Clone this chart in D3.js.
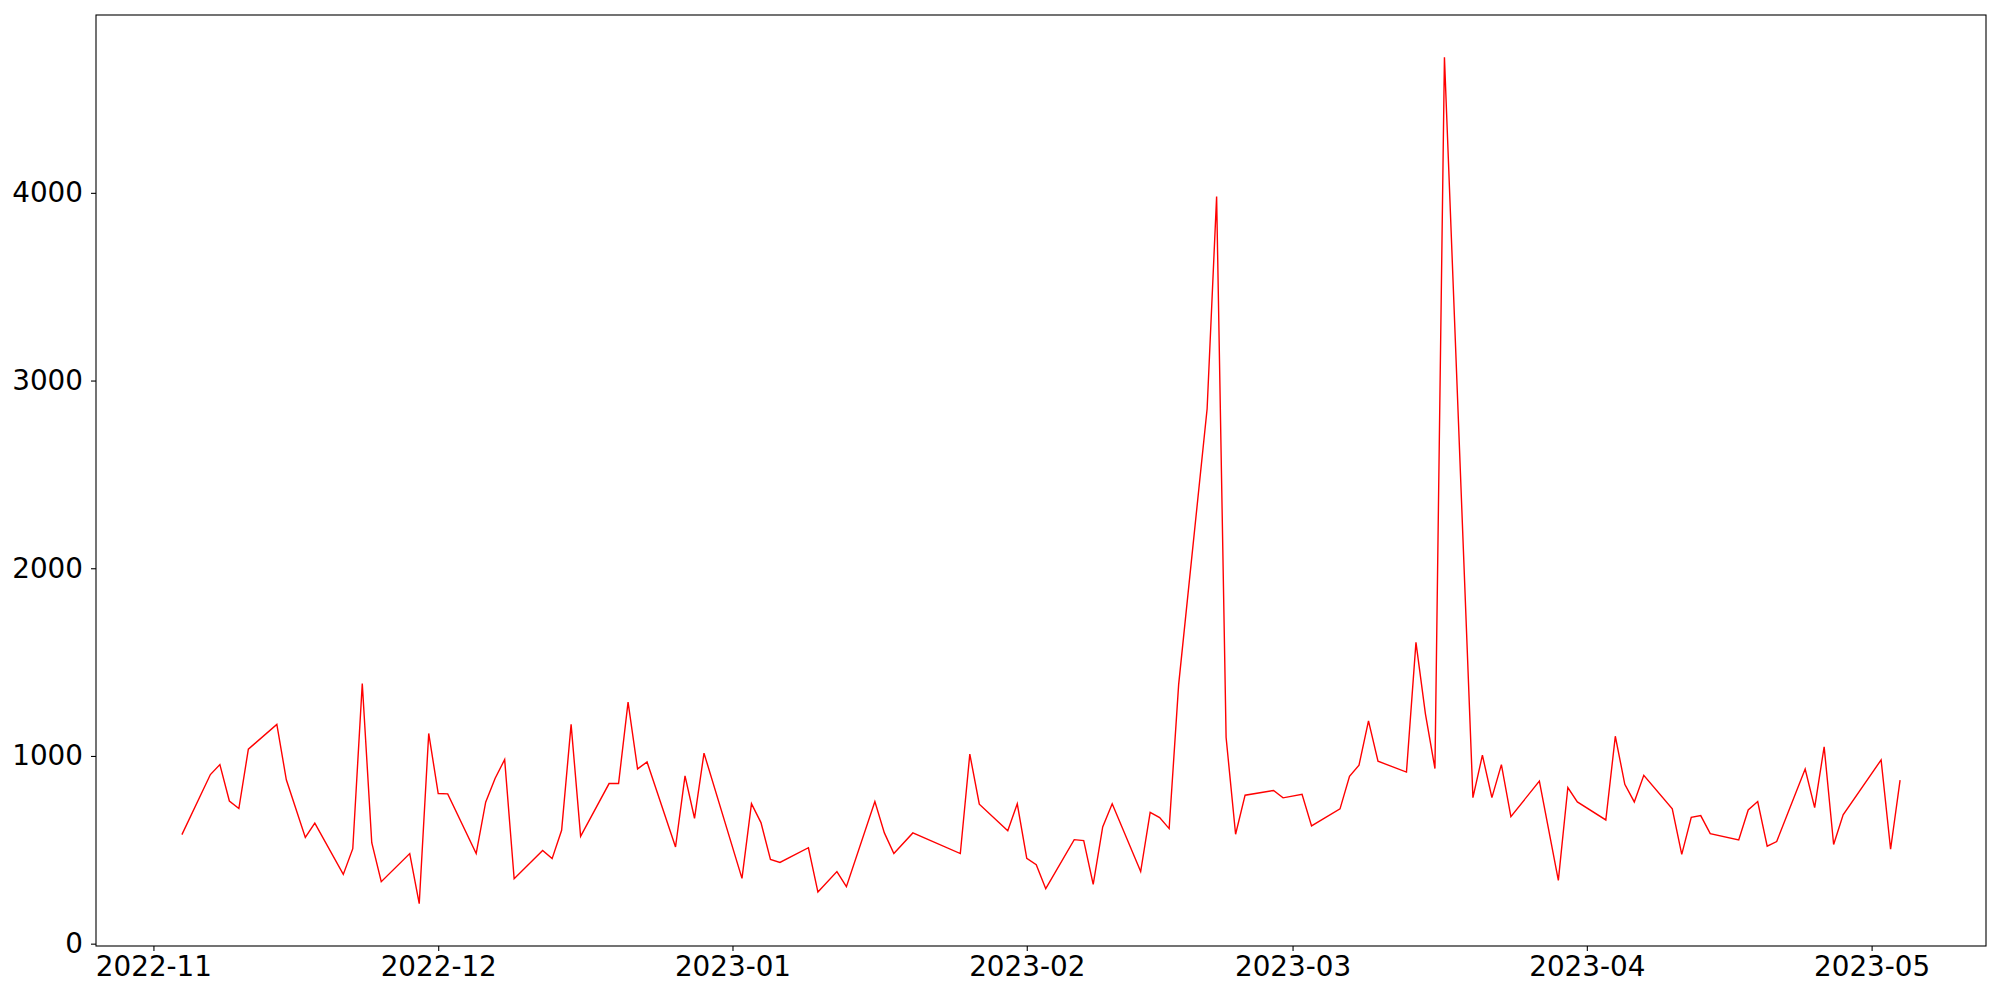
<!DOCTYPE html>
<html>
<head>
<meta charset="utf-8">
<script src="https://cdn.jsdelivr.net/npm/d3@7"></script>
<style>
  body { margin: 0; background: #fff; }
  #chart text { font-family: "DejaVu Sans", sans-serif; }
</style>
</head>
<body>
<div id="chart"></div>
<script>
// daily values, weekdays only (some days missing)
var dates = [
  "2022-11-04", "2022-11-07", "2022-11-08", "2022-11-09", "2022-11-10", "2022-11-11",
  "2022-11-14", "2022-11-15", "2022-11-17", "2022-11-18",
  "2022-11-21", "2022-11-22", "2022-11-23", "2022-11-24", "2022-11-25",
  "2022-11-28", "2022-11-29", "2022-11-30", "2022-12-01", "2022-12-02",
  "2022-12-05", "2022-12-06", "2022-12-07", "2022-12-08", "2022-12-09",
  "2022-12-12", "2022-12-13", "2022-12-14", "2022-12-15", "2022-12-16",
  "2022-12-19", "2022-12-20", "2022-12-21", "2022-12-22", "2022-12-23",
  "2022-12-26", "2022-12-27", "2022-12-28", "2022-12-29",
  "2023-01-02", "2023-01-03", "2023-01-04", "2023-01-05", "2023-01-06",
  "2023-01-09", "2023-01-10", "2023-01-12", "2023-01-13",
  "2023-01-16", "2023-01-17", "2023-01-18", "2023-01-20",
  "2023-01-25", "2023-01-26", "2023-01-27",
  "2023-01-30", "2023-01-31", "2023-02-01", "2023-02-02", "2023-02-03",
  "2023-02-06", "2023-02-07", "2023-02-08", "2023-02-09", "2023-02-10",
  "2023-02-13", "2023-02-14", "2023-02-15", "2023-02-16", "2023-02-17",
  "2023-02-20", "2023-02-21", "2023-02-22", "2023-02-23", "2023-02-24",
  "2023-02-27", "2023-02-28", "2023-03-02", "2023-03-03",
  "2023-03-06", "2023-03-07", "2023-03-08", "2023-03-09", "2023-03-10",
  "2023-03-13", "2023-03-14", "2023-03-15", "2023-03-16", "2023-03-17",
  "2023-03-20", "2023-03-21", "2023-03-22", "2023-03-23", "2023-03-24",
  "2023-03-27", "2023-03-29", "2023-03-30", "2023-03-31",
  "2023-04-03", "2023-04-04", "2023-04-05", "2023-04-06", "2023-04-07",
  "2023-04-10", "2023-04-11", "2023-04-12", "2023-04-13", "2023-04-14",
  "2023-04-17", "2023-04-18", "2023-04-19", "2023-04-20", "2023-04-21",
  "2023-04-24", "2023-04-25", "2023-04-26", "2023-04-27", "2023-04-28",
  "2023-05-02", "2023-05-03", "2023-05-04"
];

var values = [
  581, 901, 954, 760, 720, 1036,
  1168, 873, 566, 642,
  369, 506, 1386, 538, 330,
  480, 213, 1120, 800, 798,
  480, 754, 881, 981, 346,
  496, 453, 604, 1168, 572,
  853, 853, 1287, 931, 968,
  515, 894, 668, 1015,
  348, 746, 645, 449, 433,
  511, 275, 384, 304,
  757, 590, 480, 590,
  480, 1010, 743,
  601, 745, 455, 421, 293,
  554, 549, 316, 622, 745,
  384, 700, 672, 613, 1380,
  2850, 3980, 1098, 583, 791,
  816, 777, 796, 627,
  718, 892, 951, 1187, 972,
  914, 1605, 1223, 933, 4722,
  778, 1004, 778, 954, 677,
  866, 337, 832, 755,
  659, 1105, 849, 755, 897,
  718, 476, 673, 682, 586,
  552, 712, 757, 519, 544,
  930, 725, 1049, 528, 686,
  979, 503, 871
];

var yTicks = [0, 1000, 2000, 3000, 4000];

var width = 2000,
    height = 1000,
    margin = {top: 15, right: 14, bottom: 54, left: 96};

var parseDate = d3.timeParse("%Y-%m-%d");
var data = dates.map(function(d, i) { return {date: parseDate(d), value: values[i]}; });

// matplotlib-like 5% margins on both axes
var xExt = d3.extent(data, function(d) { return d.date; }),
    yExt = d3.extent(data, function(d) { return d.value; });
var xPad = (xExt[1] - xExt[0]) * 0.05,
    yPad = (yExt[1] - yExt[0]) * 0.05;

var x = d3.scaleTime()
    .domain([new Date(+xExt[0] - xPad), new Date(+xExt[1] + xPad)])
    .range([margin.left, width - margin.right]);

var y = d3.scaleLinear()
    .domain([yExt[0] - yPad, yExt[1] + yPad])
    .range([height - margin.bottom, margin.top]);

var svg = d3.select("#chart").append("svg")
    .attr("width", width)
    .attr("height", height);

svg.append("rect")
    .attr("width", width)
    .attr("height", height)
    .attr("fill", "#fff");

var line = d3.line()
    .x(function(d) { return x(d.date); })
    .y(function(d) { return y(d.value); });

svg.append("path")
    .datum(data)
    .attr("fill", "none")
    .attr("stroke", "#ff0000")
    .attr("stroke-width", 1.4)
    .attr("stroke-linejoin", "miter")
    .attr("d", line);

var xAxis = svg.append("g")
    .attr("transform", "translate(0," + (height - margin.bottom) + ")")
    .call(d3.axisBottom(x)
        .ticks(d3.timeMonth.every(1))
        .tickFormat(d3.timeFormat("%Y-%m"))
        .tickSize(5)
        .tickPadding(5));

var yAxis = svg.append("g")
    .attr("transform", "translate(" + margin.left + ",0)")
    .call(d3.axisLeft(y)
        .tickValues(yTicks)
        .tickFormat(d3.format("d"))
        .tickSize(5)
        .tickPadding(8));

[xAxis, yAxis].forEach(function(a) {
    a.select(".domain").remove();
    a.selectAll(".tick line").attr("stroke", "#000").attr("stroke-width", 1.1);
    a.selectAll(".tick text")
        .attr("fill", "#000")
        .style("font-size", "27.8px");
});

// axes frame
svg.append("rect")
    .attr("x", margin.left)
    .attr("y", margin.top)
    .attr("width", width - margin.left - margin.right)
    .attr("height", height - margin.top - margin.bottom)
    .attr("fill", "none")
    .attr("stroke", "#000")
    .attr("stroke-width", 1.1);
</script>
</body>
</html>
